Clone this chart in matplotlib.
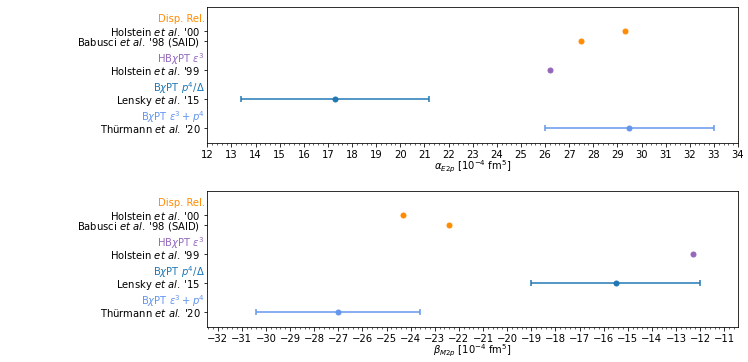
import numpy as np
import matplotlib
matplotlib.use("Agg")
import matplotlib.pyplot as plt
from matplotlib.ticker import MultipleLocator
import matplotlib.transforms as mtransforms

# === DATA ===
labels = ["Holstein $et\\ al.$\u2009'00", "Babusci $et\\ al.$\u2009'98 (SAID)",
          "Holstein $et\\ al.$\u2009'99", "Lensky $et\\ al.$\u2009'15",
          "Th\u00fcrmann $et\\ al.$\u2009'20"]
ypos = [3.35, 3.0, 2.0, 1.0, 0.0]
colors = ["darkorange", "darkorange", "tab:purple", "tab:blue", "cornflowerblue"]

alpha_val = [29.3, 27.5, 26.2, 17.3, 29.5]
alpha_err = [0.0, 0.0, 0.0, 3.9, 3.5]
beta_val = [-24.3, -22.4, -12.3, -15.5, -27.0]
beta_err = [0.0, 0.0, 0.0, 3.5, 3.4]

groups = ["Disp. Rel.", "HB$\\chi$PT $\\epsilon^3$", "B$\\chi$PT $p^4/\\Delta$",
          "B$\\chi$PT $\\epsilon^3 + p^4$"]
group_y = [3.74, 2.38, 1.38, 0.38]
group_colors = ["darkorange", "tab:purple", "tab:blue", "cornflowerblue"]

# === PLOT ===
dpi = 72
fig = plt.figure(figsize=(748 / dpi, 362 / dpi), dpi=dpi)
ax1 = fig.add_axes([207.3 / 748, 1 - 143 / 362, 530.7 / 748, 135.7 / 362])
ax2 = fig.add_axes([207.3 / 748, 1 - 327 / 362, 530.7 / 748, 135.7 / 362])


def draw(ax, vals, errs, xlim, xlabel):
    for v, e, y, c in zip(vals, errs, ypos, colors):
        if e > 0:
            ax.errorbar(v, y, xerr=e, fmt="o", color=c, ms=5, capsize=3,
                        elinewidth=1.5, capthick=1.5)
        else:
            ax.plot(v, y, "o", color=c, ms=5)
    ax.set_yticks(ypos)
    ax.set_yticklabels(labels)
    ax.set_ylim(-0.5, 4.15)
    ax.set_xlim(*xlim)
    ax.xaxis.set_major_locator(MultipleLocator(1))
    ax.xaxis.set_minor_locator(MultipleLocator(0.2))
    ax.set_xlabel(xlabel, labelpad=-1)
    trans = mtransforms.blended_transform_factory(ax.transAxes, ax.transData)
    for g, gy, gc in zip(groups, group_y, group_colors):
        ax.text(-0.005, gy, g, color=gc, ha="right", va="center",
                transform=trans)


draw(ax1, alpha_val, alpha_err, (12, 34),
     "$\\alpha_{E2p}$ [$10^{-4}$ fm$^5$]")
draw(ax2, beta_val, beta_err, (-32.43, -10.43),
     "$\\beta_{M2p}$ [$10^{-4}$ fm$^5$]")

fig.savefig("out.png", dpi=dpi)
